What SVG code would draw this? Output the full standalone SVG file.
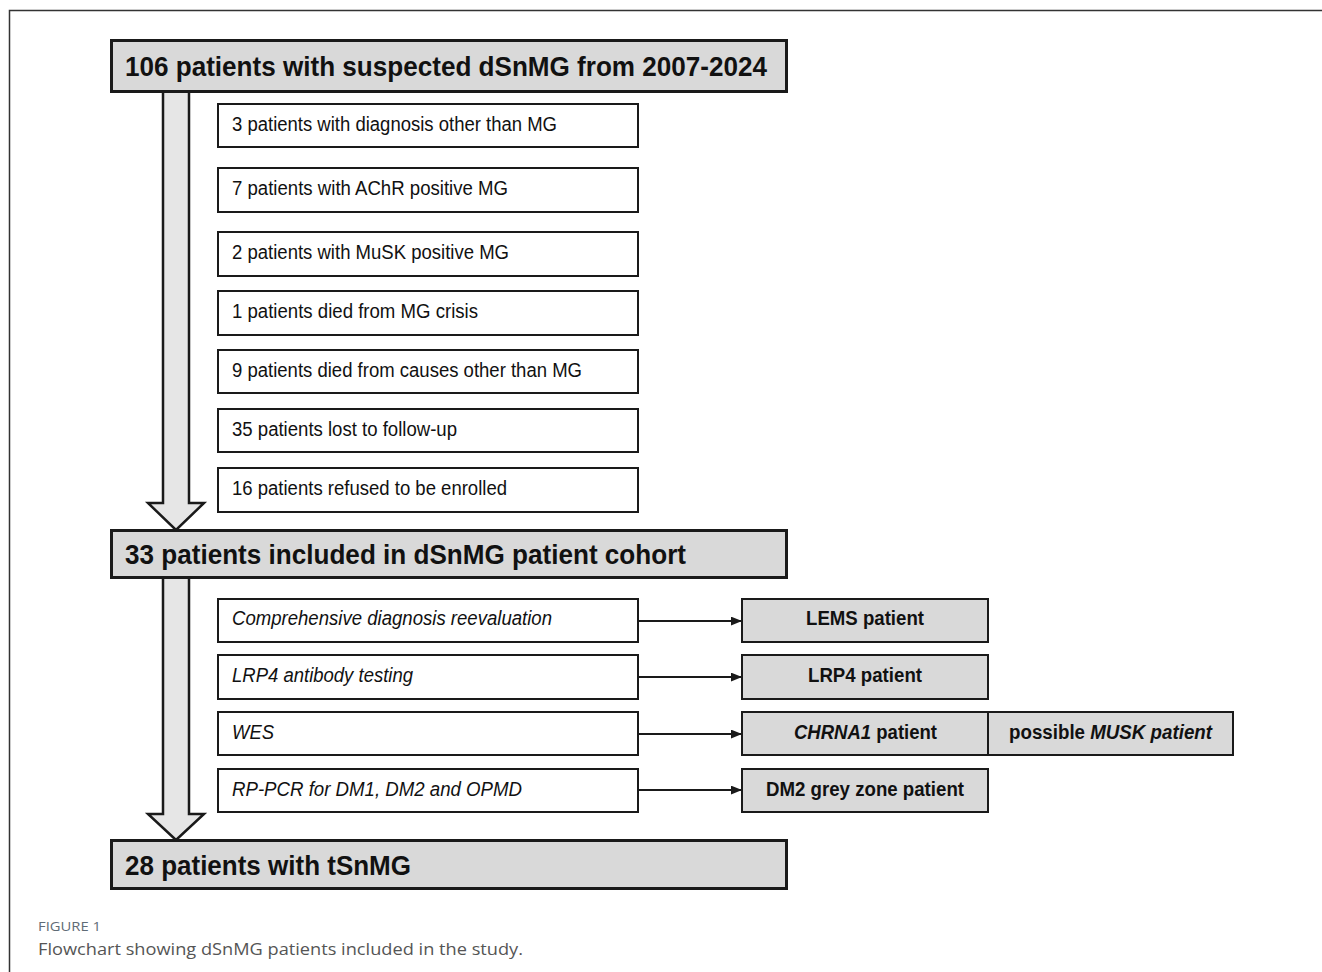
<svg xmlns="http://www.w3.org/2000/svg" width="1322" height="972" viewBox="0 0 1322 972">
<defs>
<style>
.main{fill:#d9d9d9;stroke:#1a1a1a;stroke-width:3}
.sub{fill:#ffffff;stroke:#1a1a1a;stroke-width:2}
.res{fill:#d9d9d9;stroke:#1a1a1a;stroke-width:2}
.big{font-family:"Liberation Sans",Arial,sans-serif;font-weight:bold;font-size:28px;fill:#111}
.t{font-family:"Liberation Sans",Arial,sans-serif;font-size:19.5px;fill:#111}
.ti{font-family:"Liberation Sans",Arial,sans-serif;font-size:19.5px;font-style:italic;fill:#111}
.tb{font-family:"Liberation Sans",Arial,sans-serif;font-size:19.5px;font-weight:bold;fill:#111}
.shaft{fill:#e6e6e6;stroke:#1a1a1a;stroke-width:2.5;stroke-linejoin:miter}
.conn{stroke:#1a1a1a;stroke-width:2;fill:none}
.cap1{font-family:"Open Sans","Noto Sans",sans-serif;font-size:13.5px;fill:#5f6b76}
.cap2{font-family:"Open Sans","Noto Sans",sans-serif;font-size:17px;fill:#555}
</style>
<marker id="ah" viewBox="0 0 10 8" refX="10" refY="4" markerWidth="11" markerHeight="9" markerUnits="userSpaceOnUse" orient="auto">
<path d="M0,0 L10,4 L0,8 z" fill="#1a1a1a"/>
</marker>
</defs>
<rect x="0" y="0" width="1322" height="972" fill="#ffffff"/>
<path d="M9.5,980 L9.5,10.5 L1330,10.5" fill="none" stroke="#333" stroke-width="1.5"/>

<g id="connectors">
<path class="shaft" d="M163,92 L163,503 L148,503 L176,530 L204,503 L189,503 L189,92"/>
<path class="shaft" d="M163,578 L163,814 L148,814 L176,840 L204,814 L189,814 L189,578"/>
<line class="conn" x1="638" y1="621" x2="742" y2="621" marker-end="url(#ah)"/>
<line class="conn" x1="638" y1="677" x2="742" y2="677" marker-end="url(#ah)"/>
<line class="conn" x1="638" y1="734" x2="742" y2="734" marker-end="url(#ah)"/>
<line class="conn" x1="638" y1="790" x2="742" y2="790" marker-end="url(#ah)"/>
</g>

<g id="n-start">
<rect class="main" x="111.5" y="40.5" width="675" height="51"/>
<text class="big" x="125" y="76" textLength="642" lengthAdjust="spacingAndGlyphs">106 patients with suspected dSnMG from 2007-2024</text>
</g>
<g id="n-ex1"><rect class="sub" x="218" y="104" width="420" height="43"/><text class="t" x="232" y="131" textLength="325" lengthAdjust="spacingAndGlyphs">3 patients with diagnosis other than MG</text></g>
<g id="n-ex2"><rect class="sub" x="218" y="168" width="420" height="44"/><text class="t" x="232" y="195" textLength="276" lengthAdjust="spacingAndGlyphs">7 patients with AChR positive MG</text></g>
<g id="n-ex3"><rect class="sub" x="218" y="232" width="420" height="44"/><text class="t" x="232" y="259" textLength="277" lengthAdjust="spacingAndGlyphs">2 patients with MuSK positive MG</text></g>
<g id="n-ex4"><rect class="sub" x="218" y="291" width="420" height="44"/><text class="t" x="232" y="318" textLength="246" lengthAdjust="spacingAndGlyphs">1 patients died from MG crisis</text></g>
<g id="n-ex5"><rect class="sub" x="218" y="350" width="420" height="43"/><text class="t" x="232" y="377" textLength="350" lengthAdjust="spacingAndGlyphs">9 patients died from causes other than MG</text></g>
<g id="n-ex6"><rect class="sub" x="218" y="409" width="420" height="43"/><text class="t" x="232" y="436" textLength="225" lengthAdjust="spacingAndGlyphs">35 patients lost to follow-up</text></g>
<g id="n-ex7"><rect class="sub" x="218" y="468" width="420" height="44"/><text class="t" x="232" y="495" textLength="275" lengthAdjust="spacingAndGlyphs">16 patients refused to be enrolled</text></g>

<g id="n-cohort">
<rect class="main" x="111.5" y="530.5" width="675" height="47"/>
<text class="big" x="125" y="564" textLength="561" lengthAdjust="spacingAndGlyphs">33 patients included in dSnMG patient cohort</text>
</g>

<g id="n-t1"><rect class="sub" x="218" y="599" width="420" height="43"/><text class="ti" x="232" y="625" textLength="320" lengthAdjust="spacingAndGlyphs">Comprehensive diagnosis reevaluation</text></g>
<g id="n-t2"><rect class="sub" x="218" y="655" width="420" height="44"/><text class="ti" x="232" y="682" textLength="181" lengthAdjust="spacingAndGlyphs">LRP4 antibody testing</text></g>
<g id="n-t3"><rect class="sub" x="218" y="712" width="420" height="43"/><text class="ti" x="232" y="739" textLength="42" lengthAdjust="spacingAndGlyphs">WES</text></g>
<g id="n-t4"><rect class="sub" x="218" y="769" width="420" height="43"/><text class="ti" x="232" y="796" textLength="290" lengthAdjust="spacingAndGlyphs">RP-PCR for DM1, DM2 and OPMD</text></g>

<g id="n-r1"><rect class="res" x="742" y="599" width="246" height="43"/><text class="tb" x="806" y="625" textLength="118" lengthAdjust="spacingAndGlyphs">LEMS patient</text></g>
<g id="n-r2"><rect class="res" x="742" y="655" width="246" height="44"/><text class="tb" x="808" y="682" textLength="114" lengthAdjust="spacingAndGlyphs">LRP4 patient</text></g>
<g id="n-r3"><rect class="res" x="742" y="712" width="246" height="43"/><text class="tb" x="794" y="739" textLength="143" lengthAdjust="spacingAndGlyphs"><tspan font-style="italic">CHRNA1</tspan> patient</text></g>
<g id="n-r3b"><rect class="res" x="988" y="712" width="245" height="43"/><text class="tb" x="1009" y="739" textLength="203" lengthAdjust="spacingAndGlyphs">possible <tspan font-style="italic">MUSK patient</tspan></text></g>
<g id="n-r4"><rect class="res" x="742" y="769" width="246" height="43"/><text class="tb" x="766" y="796" textLength="198" lengthAdjust="spacingAndGlyphs">DM2 grey zone patient</text></g>

<g id="n-final">
<rect class="main" x="111.5" y="840.5" width="675" height="48"/>
<text class="big" x="125" y="875" textLength="286" lengthAdjust="spacingAndGlyphs">28 patients with tSnMG</text>
</g>

<text class="cap1" x="38" y="931" textLength="63" lengthAdjust="spacingAndGlyphs">FIGURE 1</text>
<text class="cap2" x="38" y="955" textLength="485" lengthAdjust="spacingAndGlyphs">Flowchart showing dSnMG patients included in the study.</text>
</svg>
